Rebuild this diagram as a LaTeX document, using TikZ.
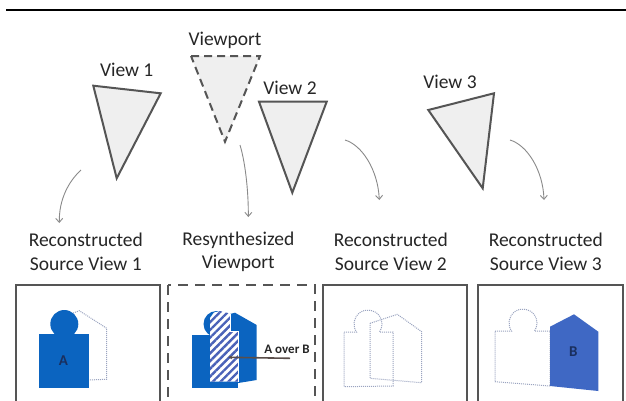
\documentclass[tikz,border=0pt]{standalone}
\usepackage{fontspec}
\setmainfont{Carlito}
\usetikzlibrary{patterns.meta,arrows.meta}
\definecolor{tri}{HTML}{555555}
\definecolor{trifill}{HTML}{EFEFEF}
\definecolor{blueA}{HTML}{0B64C0}
\definecolor{blueB}{HTML}{3F68C4}
\definecolor{hatchc}{HTML}{4A62B8}
\definecolor{navy}{HTML}{1A2F5E}
\definecolor{dotc}{HTML}{9AA4C0}
\definecolor{arr}{HTML}{8A8A8A}
\definecolor{txt}{HTML}{262626}
\definecolor{pointer}{HTML}{5A4E4A}
\tikzset{
  cam/.style={draw=tri, fill=trifill, line width=2pt, line join=miter},
  camdash/.style={cam, dash pattern=on 8pt off 5pt},
  frame/.style={draw=tri, line width=2pt},
  framedash/.style={frame, dash pattern=on 10pt off 7pt},
  lbl/.style={font=\fontsize{19.5}{23.3}\selectfont, text=txt, align=center, inner sep=0pt},
  ghost/.style={draw=dotc, line width=1pt, dash pattern=on 1pt off 1pt},
  flow/.style={draw=arr, line width=0.9pt, -{Straight Barb[length=4pt,width=7pt]}},
  letter/.style={font=\fontsize{15}{15}\selectfont\bfseries, text=navy, inner sep=0pt},
  note/.style={font=\fontsize{13}{13}\selectfont\bfseries, text=txt, inner sep=0pt},
}
\begin{document}
\begin{tikzpicture}[x=1pt,y=-1pt]
\clip (0,0) rectangle (626,400);
\fill[white] (0,0) rectangle (626,400);
% top rule
\coordinate (ruleL) at (6,10);
\coordinate (ruleR) at (626,10);
\draw[black, line width=2pt] (ruleL) -- (ruleR);

% cameras
\draw[cam] (93.3,85.7) -- (160.7,93.3) -- (116.7,178.3) -- cycle;
\node[lbl] (v1) at (126.7,70) {View 1};
\draw[camdash] (191,56) -- (260,56) -- (225,141.7) -- cycle;
\node[lbl] (vp) at (225,40) {Viewport};
\draw[cam] (259,101.7) -- (326.7,101.7) -- (292.3,192.7) -- cycle;
\node[lbl] (v2) at (290,88.3) {View 2};
\draw[cam] (428.3,110) -- (494,93.3) -- (482.7,188.3) -- cycle;
\node[lbl] (v3) at (450,82.3) {View 3};

% captions
\node[lbl] (c1) at (85.8,251.7) {Reconstructed\\Source View 1};
\node[lbl] (c2) at (238.3,251.7) {Resynthesized\\Viewport};
\node[lbl] (c3) at (390.8,251.7) {Reconstructed\\Source View 2};
\node[lbl] (c4) at (545.8,251.7) {Reconstructed\\Source View 3};

% arrows
\coordinate (a1s) at (81,170);   \coordinate (a1e) at (59.3,223);
\coordinate (a2s) at (240,145);  \coordinate (a2e) at (248.3,217);
\coordinate (a3s) at (345,140);  \coordinate (a3e) at (379.3,200);
\coordinate (a4s) at (510,140);  \coordinate (a4e) at (544,200);
\draw[flow] (a1s) .. controls (68,182) and (59,200) .. (a1e);
\draw[flow] (a2s) .. controls (246,165) and (248.5,195) .. (a2e);
\draw[flow] (a3s) .. controls (362,145) and (378,170) .. (a3e);
\draw[flow] (a4s) .. controls (527,145) and (543,170) .. (a4e);

% frames
\draw[frame] (15.7,285) rectangle (160,420);
\draw[framedash] (168.3,285) rectangle (315,420);
\draw[frame] (323.3,285) rectangle (466.7,420);
\draw[frame] (478.3,285) rectangle (623,420);

% box 1
\draw[ghost] (60,318) -- (79.3,310.7) -- (106.7,328.3) -- (106.7,379.3) -- (60,381) -- cycle;
\fill[blueA] (39.3,334) rectangle (89,388.3);
\fill[blueA] (64.3,324) circle[radius=14];
\node[letter] (A1) at (63.3,361) {A};

% box 2
\fill[blueA] (230,314) -- (235,312.7) -- (256.7,325) -- (256.7,380) -- (238.3,383) -- (230,383) -- cycle;
\fill[blueA] (192.3,335) rectangle (238.3,388.3);
\fill[blueA] (216.5,324) circle[radius=13];
\fill[white] (210,381.7) -- (210,318) -- (214,312.5) -- (220,311) -- (230,313.5) -- (230,331.7) -- (238.3,331.7) -- (238.3,381.7) -- cycle;
\fill[pattern={Lines[angle=45,distance=5.5pt,line width=2.4pt]}, pattern color=hatchc]
  (210,381.7) -- (210,318) -- (214,312.5) -- (220,311) -- (230,313.5) -- (230,331.7) -- (238.3,331.7) -- (238.3,381.7) -- cycle;
\draw[white, line width=1pt] (230.5,313.5) -- (230.5,331.2) -- (238.8,331.2) -- (238.8,381.7);
\node[note] (aob) at (287,349) {A over B};
\coordinate (aobs) at (290,358.3);
\coordinate (aobe) at (228.3,357.3);
\draw[draw=pointer, line width=1.6pt, -{Stealth[length=4pt,width=4pt]}] (aobs) -- (aobe);

% box 3
\draw[ghost] (344,332) -- (356.5,332) arc[start angle=145.2,end angle=394.8,radius=14] -- (393,332) -- (393,386) -- (344,386.7) -- cycle;
\draw[ghost] (370,323.3) -- (397.3,314.3) -- (421.7,331.7) -- (421.7,382.7) -- (370,378.3) -- cycle;

% box 4
\draw[ghost] (495,331) -- (511.5,331) arc[start angle=145.2,end angle=394.8,radius=14] -- (550,331) -- (550,386) -- (495,381.7) -- cycle;
\fill[blueB] (550,326.7) -- (574,314.3) -- (598.3,331.7) -- (598.3,391) -- (550,386) -- cycle;
\node[letter] (B4) at (573.3,351.7) {B};
\end{tikzpicture}
\end{document}
